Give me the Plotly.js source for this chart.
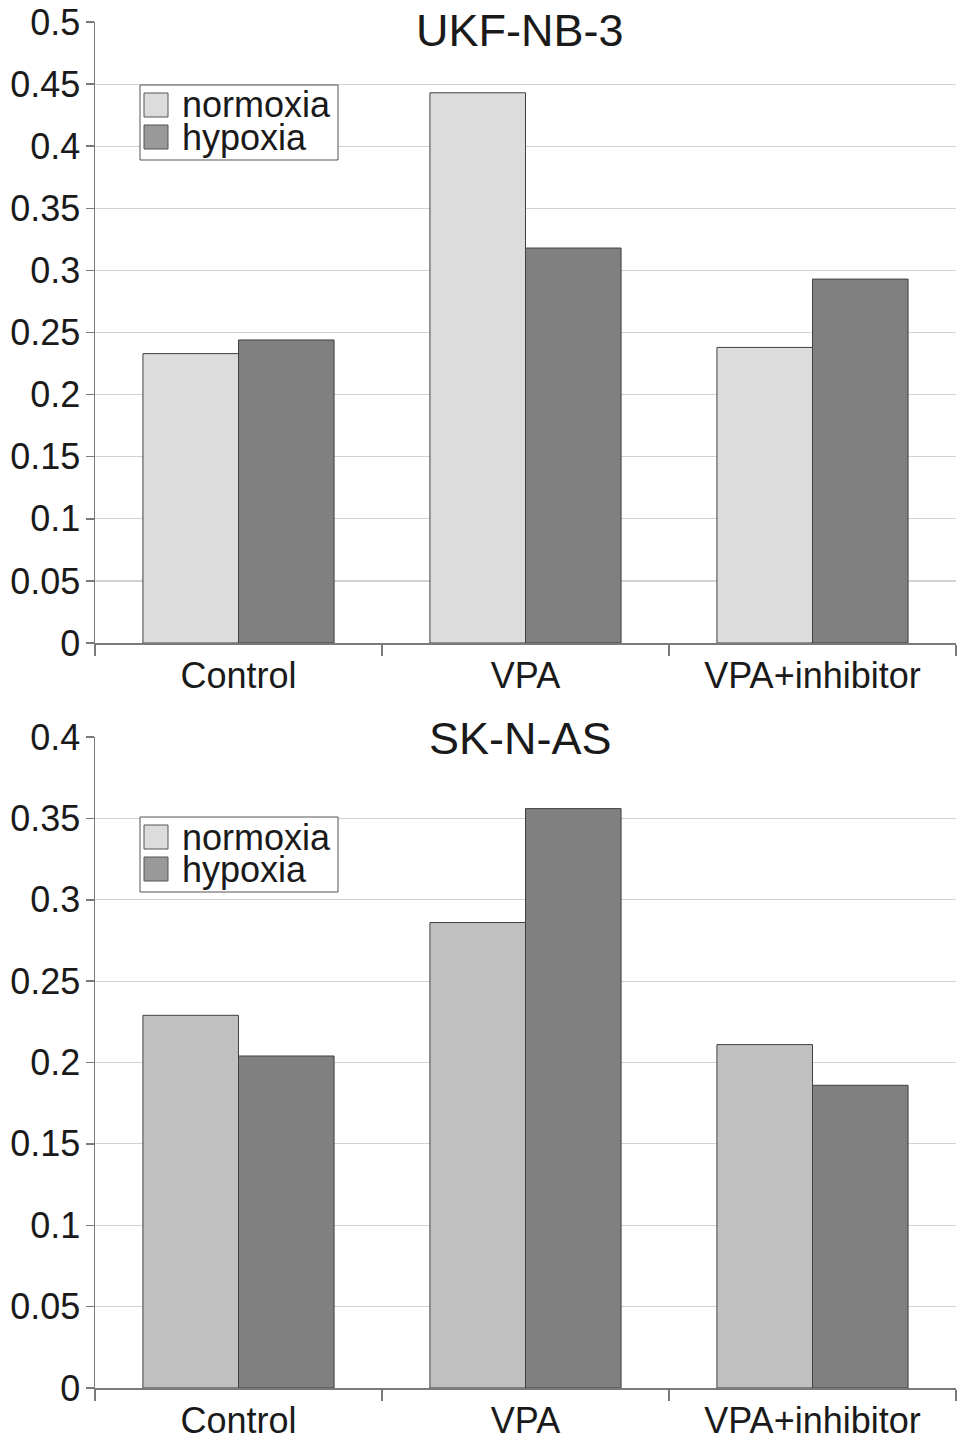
<!DOCTYPE html>
<html>
<head>
<meta charset="utf-8">
<script src="https://cdn.plot.ly/plotly-3.0.1.min.js"></script>
<style>html,body{margin:0;padding:0;background:#fff;}#chart{width:969px;height:1446px;}</style>
</head>
<body>
<div id="chart"></div>
<script>
// ---- data ----
const categories = ["Control", "VPA", "VPA+inhibitor"];
const topTitle = "UKF-NB-3";
const bottomTitle = "SK-N-AS";
const topNormoxia = [0.233, 0.443, 0.238];
const topHypoxia = [0.244, 0.318, 0.293];
const bottomNormoxia = [0.229, 0.286, 0.211];
const bottomHypoxia = [0.204, 0.356, 0.186];
const topTickVals = [0, 0.05, 0.1, 0.15, 0.2, 0.25, 0.3, 0.35, 0.4, 0.45, 0.5];
const topTickText = ["0", "0.05", "0.1", "0.15", "0.2", "0.25", "0.3", "0.35", "0.4", "0.45", "0.5"];
const bottomTickVals = [0, 0.05, 0.1, 0.15, 0.2, 0.25, 0.3, 0.35, 0.4];
const bottomTickText = ["0", "0.05", "0.1", "0.15", "0.2", "0.25", "0.3", "0.35", "0.4"];
const seriesNames = ["normoxia", "hypoxia"];

// ---- layout helpers ----
const W = 969, H = 1446;
const L = 95, R = 956, T = 22, B = 1388;
const px = x => (x - L) / (R - L);
const py = y => (B - y) / (B - T);
const font = "Liberation Sans, Arial, sans-serif";
const txt = "#1a1a1a";
const lineCol = "#7a7a7a";

function bar(x, y, color, xa, ya) {
  return {type: "bar", x: x, y: y, xaxis: xa, yaxis: ya, showlegend: false,
    marker: {color: color, line: {color: "#404040", width: 1}}, hoverinfo: "skip"};
}

const data = [
  bar(categories, topNormoxia, "#dcdcdc", "x", "y"),
  bar(categories, topHypoxia, "#808080", "x", "y"),
  bar(categories, bottomNormoxia, "#c0c0c0", "x2", "y2"),
  bar(categories, bottomHypoxia, "#808080", "x2", "y2")
];

const xaxisBase = {
  type: "category", showline: true, linecolor: lineCol, linewidth: 1.5,
  ticks: "outside", tickson: "boundaries", ticklen: 11, tickcolor: lineCol, tickwidth: 1.5,
  tickfont: {family: font, size: 36, color: txt}, showgrid: false, zeroline: false,
  fixedrange: true
};
const yaxisBase = {
  showline: true, linecolor: lineCol, linewidth: 1.5,
  ticks: "outside", ticklen: 8, tickcolor: lineCol, tickwidth: 1.5,
  tickfont: {family: font, size: 36, color: txt}, ticklabelstandoff: -2,
  showgrid: true, gridcolor: "#d2d2d2", gridwidth: 1.2, zeroline: false, fixedrange: true
};

function legendItems(boxTop) {
  // boxTop in pixels
  const shapes = [], annots = [];
  shapes.push({type: "rect", xref: "paper", yref: "paper",
    x0: px(140), x1: px(338), y0: py(boxTop), y1: py(boxTop + 75),
    line: {color: "#555", width: 1}, fillcolor: "#fff"});
  const sw = ["#dcdcdc", "#999999"];
  for (let i = 0; i < 2; i++) {
    const t = boxTop + 8 + i * 32;
    shapes.push({type: "rect", xref: "paper", yref: "paper",
      x0: px(144), x1: px(168), y0: py(t), y1: py(t + 24),
      line: {color: "#555", width: 1}, fillcolor: sw[i]});
    annots.push({xref: "paper", yref: "paper", x: px(181), y: py(t + 12),
      xanchor: "left", yanchor: "middle", text: seriesNames[i], showarrow: false,
      borderpad: 0,
      font: {family: font, size: 36, color: txt}});
  }
  return {shapes, annots};
}

const lg1 = legendItems(85);
const lg2 = legendItems(817);

const layout = {
  width: W, height: H,
  margin: {l: L, r: W - R, t: T, b: H - B},
  paper_bgcolor: "#fff", plot_bgcolor: "#fff",
  barmode: "group", bargap: 0.334, bargroupgap: 0,
  showlegend: false,
  xaxis: Object.assign({}, xaxisBase, {domain: [0, 1], anchor: "y"}),
  yaxis: Object.assign({}, yaxisBase, {domain: [py(643), 1], anchor: "x", range: [0, 0.5],
    tickvals: topTickVals, ticktext: topTickText}),
  xaxis2: Object.assign({}, xaxisBase, {domain: [0, 1], anchor: "y2"}),
  yaxis2: Object.assign({}, yaxisBase, {domain: [0, py(737)], anchor: "x2", range: [0, 0.4],
    tickvals: bottomTickVals, ticktext: bottomTickText}),
  shapes: lg1.shapes.concat(lg2.shapes),
  annotations: [
    {xref: "paper", yref: "paper", x: px(520), y: py(31), xanchor: "center", yanchor: "middle",
     text: topTitle, showarrow: false, font: {family: font, size: 45, color: txt}},
    {xref: "paper", yref: "paper", x: px(520), y: py(739), xanchor: "center", yanchor: "middle",
     text: bottomTitle, showarrow: false, font: {family: font, size: 45, color: txt}}
  ].concat(lg1.annots, lg2.annots)
};

Plotly.newPlot("chart", data, layout, {displayModeBar: false, staticPlot: true});
</script>
</body>
</html>
